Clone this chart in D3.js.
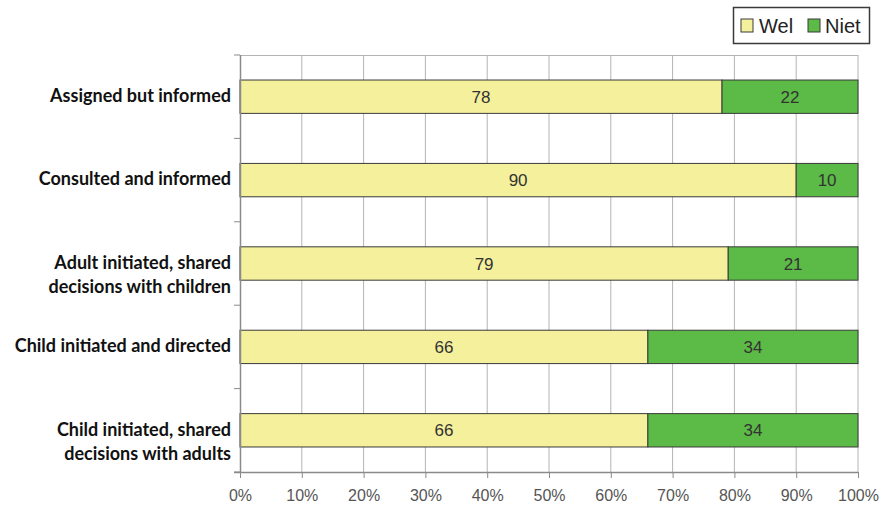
<!DOCTYPE html>
<html>
<head>
<meta charset="utf-8">
<script src="https://cdn.jsdelivr.net/npm/d3@7"></script>
<style>
  html, body { margin: 0; padding: 0; background: #fff; }
  svg { display: block; }
</style>
</head>
<body>
<svg id="chart" width="883" height="506"></svg>
<script>
// Categories (top to bottom) and their line-wrapped labels
const categories = [
  "Assigned but informed",
  "Consulted and informed",
  "Adult initiated, shared decisions with children",
  "Child initiated and directed",
  "Child initiated, shared decisions with adults"
];
const categoryLines = [
  ["Assigned but informed"],
  ["Consulted and informed"],
  ["Adult initiated, shared", "decisions with children"],
  ["Child initiated and directed"],
  ["Child initiated, shared", "decisions with adults"]
];
const seriesNames = ["Wel", "Niet"];
const welValues  = [78, 90, 79, 66, 66];
const nietValues = [22, 10, 21, 34, 34];
const xTicks = [0, 10, 20, 30, 40, 50, 60, 70, 80, 90, 100];

const colors = { Wel: "#f4f09c", Niet: "#5cba46" };
const sans = "'Liberation Sans', Arial, sans-serif";

const svg = d3.select("#chart");
const margin = { left: 240, right: 25, top: 55, bottom: 34 };
const W = 883, H = 506;

const x = d3.scaleLinear().domain([0, 100]).range([margin.left, W - margin.right]);
const y = d3.scaleBand().domain(categories).range([margin.top, H - margin.bottom])
  .paddingInner(0.6).paddingOuter(0.3);

// Vertical gridlines
svg.append("g").selectAll("line").data(xTicks.slice(1)).join("line")
  .attr("x1", d => x(d)).attr("x2", d => x(d))
  .attr("y1", margin.top).attr("y2", H - margin.bottom)
  .attr("stroke", "#b4b4b4").attr("stroke-width", 1);

// Top border line
svg.append("line")
  .attr("x1", x(0)).attr("x2", x(100))
  .attr("y1", margin.top + 0.5).attr("y2", margin.top + 0.5)
  .attr("stroke", "#b4b4b4");

// Stacked bars
const rows = categories.map((c, i) => ({ cat: c, Wel: welValues[i], Niet: nietValues[i] }));
const stack = d3.stack().keys(seriesNames)(rows);

const barG = svg.append("g");
stack.forEach(layer => {
  const key = layer.key;
  barG.append("g").selectAll("rect").data(layer).join("rect")
    .attr("x", d => x(d[0]))
    .attr("y", d => y(d.data.cat))
    .attr("width", d => x(d[1]) - x(d[0]))
    .attr("height", y.bandwidth())
    .attr("fill", colors[key])
    .attr("stroke", "#3a3a3a")
    .attr("stroke-width", 1);
  barG.append("g").selectAll("text").data(layer).join("text")
    .attr("x", d => (x(d[0]) + x(d[1])) / 2)
    .attr("y", d => y(d.data.cat) + y.bandwidth() / 2)
    .attr("dy", "0.36em")
    .attr("text-anchor", "middle")
    .attr("font-family", sans)
    .attr("font-size", 17)
    .attr("fill", "#333")
    .text(d => d.data[key]);
});

// Y axis line and ticks at band boundaries
const yTickPos = d3.range(categories.length + 1)
  .map(i => margin.top + i * (H - margin.top - margin.bottom) / categories.length);
svg.append("line")
  .attr("x1", x(0) + 0.5).attr("x2", x(0) + 0.5)
  .attr("y1", margin.top).attr("y2", H - margin.bottom)
  .attr("stroke", "#8a8a8a").attr("stroke-width", 1.5);
svg.append("g").selectAll("line").data(yTickPos).join("line")
  .attr("x1", x(0) - 6).attr("x2", x(0))
  .attr("y1", d => d).attr("y2", d => d)
  .attr("stroke", "#8a8a8a");

// X axis
const xAxis = d3.axisBottom(x).tickValues(xTicks).tickFormat(d => d + "%").tickSize(6).tickPadding(12);
const xg = svg.append("g").attr("transform", `translate(0,${H - margin.bottom})`).call(xAxis);
xg.select(".domain").attr("stroke", "#8a8a8a").attr("stroke-width", 1.5)
  .attr("d", `M${x(0) - 6},0.5H${x(100)}`);
xg.selectAll(".tick line").attr("stroke", "#8a8a8a");
xg.selectAll(".tick text")
  .attr("font-family", sans)
  .attr("font-size", 16)
  .attr("fill", "#555");

// Category labels
const labG = svg.append("g");
categories.forEach((c, i) => {
  const lines = categoryLines[i];
  const cy = y(c) + y.bandwidth() / 2;
  const t = labG.append("text")
    .attr("text-anchor", "end")
    .attr("font-family", "Lato, 'Open Sans', sans-serif")
    .attr("font-weight", 700)
    .attr("font-size", 18)
    .attr("fill", "#111");
  lines.forEach((ln, j) => {
    t.append("tspan")
      .attr("x", x(0) - 9)
      .attr("y", cy - 1 + j * 24)
      .attr("dy", "0.35em")
      .text(ln);
  });
});

// Legend
const lg = svg.append("g").attr("transform", "translate(733,7)");
lg.append("rect").attr("x", 0.5).attr("y", 0.5).attr("width", 136).attr("height", 36)
  .attr("fill", "#fff").attr("stroke", "#3a3a3a").attr("stroke-width", 1.5);
const legendItems = [
  { key: "Wel", sx: 8, tx: 26 },
  { key: "Niet", sx: 75, tx: 92 }
];
legendItems.forEach(it => {
  lg.append("rect").attr("x", it.sx).attr("y", 12).attr("width", 12).attr("height", 13)
    .attr("fill", colors[it.key]).attr("stroke", "#3a3a3a");
  lg.append("text").attr("x", it.tx).attr("y", 18.5).attr("dy", "0.36em")
    .attr("font-family", sans)
    .attr("font-size", 20).attr("fill", "#222").text(it.key);
});
</script>
</body>
</html>
